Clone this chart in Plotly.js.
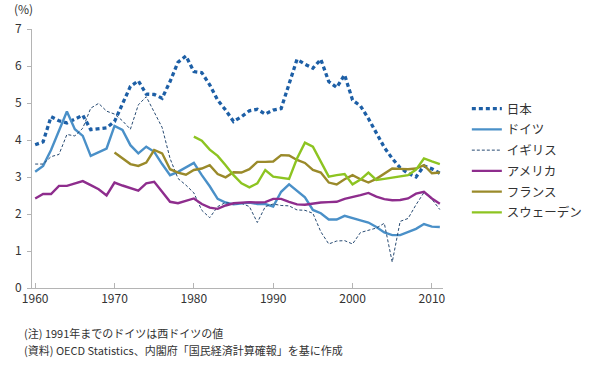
<!DOCTYPE html>
<html>
<head>
<meta charset="utf-8">
<script src="https://cdn.plot.ly/plotly-3.0.1.min.js"></script>
<style>
html,body{margin:0;padding:0;background:#fff;}
#chart{width:600px;height:365px;}
</style>
</head>
<body>
<div id="chart"></div>
<script>
// Years 1960-2011
var years = [];
for (var y = 1960; y <= 2011; y++) years.push(y);

var seriesNames = ["日本", "ドイツ", "イギリス", "アメリカ", "フランス", "スウェーデン"];

var japan = [3.87,3.95,4.63,4.52,4.46,4.56,4.67,4.28,4.30,4.33,
             4.50,4.95,5.45,5.60,5.24,5.23,5.13,5.58,6.10,6.27,
             5.85,5.82,5.49,5.08,4.81,4.50,4.63,4.79,4.83,4.70,
             4.81,4.85,5.53,6.18,6.05,5.94,6.18,5.58,5.42,5.76,
             5.08,4.92,4.58,4.20,3.80,3.50,3.25,3.10,3.00,3.30,
             3.22,3.10];
var germany = [3.14,3.30,3.73,4.27,4.77,4.29,4.11,3.57,3.68,3.77,
               4.38,4.27,3.86,3.64,3.82,3.68,3.35,3.05,3.14,3.26,
               3.38,3.05,2.75,2.41,2.31,2.26,2.29,2.31,2.27,2.27,
               2.20,2.60,2.80,2.63,2.45,2.11,2.02,1.85,1.85,1.95,
               1.88,1.83,1.77,1.65,1.50,1.43,1.43,1.52,1.60,1.73,
               1.66,1.65];
var uk = [3.35,3.35,3.55,3.61,4.15,4.11,4.32,4.86,4.99,4.78,
          4.70,4.52,4.29,4.95,5.17,4.74,4.34,3.50,2.96,2.78,
          2.57,2.10,1.90,2.20,2.31,2.27,2.29,2.20,1.77,2.20,
          2.27,2.23,2.22,2.11,2.10,2.02,1.52,1.19,1.27,1.28,
          1.19,1.50,1.55,1.62,1.75,0.70,1.80,1.88,2.25,2.58,
          2.40,2.12];
var usa = [2.42,2.54,2.54,2.76,2.76,2.83,2.89,2.78,2.67,2.50,
           2.85,2.77,2.70,2.63,2.83,2.87,2.60,2.33,2.29,2.36,
           2.42,2.27,2.17,2.14,2.23,2.29,2.31,2.32,2.31,2.32,
           2.41,2.41,2.33,2.26,2.25,2.29,2.31,2.32,2.33,2.41,
           2.45,2.51,2.57,2.47,2.40,2.37,2.38,2.42,2.55,2.60,
           2.42,2.28];
// France from 1970
var franceStart = 1970;
var france = [3.66,3.50,3.35,3.30,3.39,3.73,3.64,3.21,3.12,3.06,
              3.19,3.23,3.32,3.08,2.99,3.13,3.12,3.21,3.41,3.41,
              3.42,3.59,3.58,3.46,3.38,3.19,3.12,2.85,2.80,2.94,
              3.05,2.94,2.85,2.95,3.10,3.23,3.22,3.21,3.23,3.32,
              3.10,3.12];
// Sweden from 1980
var swedenStart = 1980;
var sweden = [4.09,3.98,3.74,3.57,3.32,3.05,2.83,2.72,2.83,3.19,
              3.01,2.98,2.95,3.50,3.93,3.82,3.41,3.01,3.05,3.08,
              2.80,2.93,3.12,2.92,2.95,2.98,3.00,3.05,3.20,3.50,
              3.42,3.35];

var xTicks = [1960,1970,1980,1990,2000,2010];
var yTicks = [0,1,2,3,4,5,6,7];

var noteLines = ["(注) 1991年までのドイツは西ドイツの値",
                 "(資料) OECD Statistics、内閣府「国民経済計算確報」を基に作成"];

var FONT = '"Noto Sans CJK JP", "Noto Sans", sans-serif';

function yrs(start, n){ var a=[]; for (var i=0;i<n;i++) a.push(start+i); return a; }

var traces = [
  {x: years, y: japan, name: seriesNames[0], mode:'lines', legendgroup:'a',
   line:{color:'#1d5fa6', width:3.3, dash:'4px,3px'}},
  {x: years, y: germany, name: seriesNames[1], mode:'lines', legendgroup:'b',
   line:{color:'#4a90c8', width:2.4}},
  {x: years, y: uk, name: seriesNames[2], mode:'lines', legendgroup:'c',
   line:{color:'#274a72', width:1, dash:'3px,2px'}},
  {x: years, y: usa, name: seriesNames[3], mode:'lines', legendgroup:'d',
   line:{color:'#8e2d8d', width:2.4}},
  {x: yrs(franceStart, france.length), y: france, name: seriesNames[4], mode:'lines', legendgroup:'e',
   line:{color:'#9a8a2a', width:2.4}},
  {x: yrs(swedenStart, sweden.length), y: sweden, name: seriesNames[5], mode:'lines', legendgroup:'f',
   line:{color:'#8dc421', width:2.4}}
];

var layout = {
  width: 600, height: 365,
  margin: {l:32, r:153, t:29, b:77},
  paper_bgcolor:'#fff', plot_bgcolor:'#fff',
  font: {family: FONT, size: 12, color:'#333'},
  showlegend: true,
  legend: {x: 1.058, xanchor:'left', y: 0.749, yanchor:'top',
           font:{family: FONT, size: 12.5, color:'#333'},
           tracegroupgap: 1.5, bgcolor:'rgba(0,0,0,0)'},
  xaxis: {range:[1959.6, 2011.4], tickvals: xTicks, ticktext: xTicks.map(String),
          showgrid:false, zeroline:false, showline:true, linecolor:'#b4b4b4', linewidth:1,
          ticks:'inside', ticklen:5, tickcolor:'#b4b4b4', tickfont:{size:12, color:'#333'}},
  yaxis: {range:[0,7], tickvals: yTicks, showgrid:false, zeroline:false,
          showline:true, linecolor:'#b4b4b4', linewidth:1,
          ticks:'outside', ticklen:4, tickcolor:'#b4b4b4', tickfont:{size:12, color:'#333'},
          ticklabelstandoff: 3},
  annotations: [
    {text:'(%)', xref:'paper', yref:'paper', x:-0.048, y:1.08, xanchor:'left', yanchor:'middle',
     showarrow:false, font:{size:12, color:'#333'}},
    {text: noteLines[0], xref:'paper', yref:'paper', x:-0.024, y:-0.172, xanchor:'left', yanchor:'middle',
     showarrow:false, font:{size:11, color:'#333'}},
    {text: noteLines[1], xref:'paper', yref:'paper', x:-0.024, y:-0.241, xanchor:'left', yanchor:'middle',
     showarrow:false, font:{size:11, color:'#333'}}
  ]
};

Plotly.newPlot('chart', traces, layout, {displayModeBar:false, staticPlot:true});
</script>
</body>
</html>
